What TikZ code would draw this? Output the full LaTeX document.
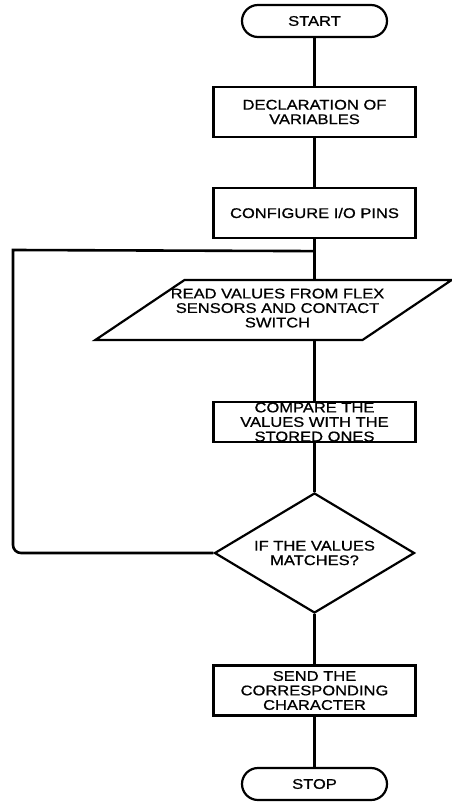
\documentclass[tikz,border=0pt]{standalone}
\usepackage{fontspec}
\setmainfont{Liberation Sans}[FakeStretch=1.18, FakeBold=0.8]
\usepackage{tikz}
\usetikzlibrary{shapes.geometric, arrows}
\tikzstyle{term} = [rectangle, rounded corners=16pt, minimum width=145pt, minimum height=32pt, text centered, draw=black, line width=2.2pt]
\tikzstyle{proc} = [rectangle, minimum width=202pt, minimum height=50pt, inner sep=0pt, align=center, draw=black, line width=2.2pt]
\tikzstyle{io} = [trapezium, trapezium left angle=26, trapezium right angle=154, trapezium stretches=true, minimum width=356pt, minimum height=60pt, inner sep=0pt, draw=black, line width=2.2pt]
\tikzstyle{decision} = [diamond, aspect=1.67, minimum width=200pt, minimum height=120pt, inner sep=0pt, align=center, draw=black, line width=2.2pt]
\tikzstyle{line} = [line width=2.6pt]

\begin{document}
\begin{tikzpicture}[node distance=100pt, font=\fontsize{14pt}{14.5pt}\selectfont, text=black]
\useasboundingbox (0,0) rectangle (451pt,-805pt);
\node (start) [term] at (314.5pt,-21pt) {START};
\node (decl) [proc, below of=start, yshift=9pt] {DECLARATION OF\\VARIABLES};
\node (conf) [proc, below of=decl, yshift=-1pt] {CONFIGURE I/O PINS};
\node (read) [io, below of=conf, xshift=-41pt, yshift=3pt] {\makebox[178pt]{\hspace{8pt}\begin{tabular}{@{}c@{}}READ VALUES FROM FLEX\\SENSORS AND CONTACT\\SWITCH\end{tabular}}};
\node (comp) [proc, below of=read, xshift=41pt, yshift=-12pt, minimum height=40pt] {COMPARE THE\\VALUES WITH THE\\STORED ONES};
\node (match) [decision, below of=comp, yshift=-31pt] {IF THE VALUES\\MATCHES?};
\node (send) [proc, below of=match, yshift=-37.5pt] {SEND THE\\CORRESPONDING\\CHARACTER};
\node (stop) [term, below of=send, yshift=6.5pt] {STOP};

\coordinate (join) at ([yshift=-12pt]conf.south);
\coordinate (corner) at (13pt,-250pt);

\draw[line] (start) -- (decl);
\draw[line] (decl) -- (conf);
\draw[line] (conf) -- (conf.south |- read.north);
\draw[line] (comp.north |- read.south) -- (comp);
\draw[line] (comp) -- (match);
\draw[line] (match) -- (send);
\draw[line] (send) -- (stop);
\draw[line] (join) -- (corner) [rounded corners=8pt] |- (match.west);
\end{tikzpicture}
\end{document}
